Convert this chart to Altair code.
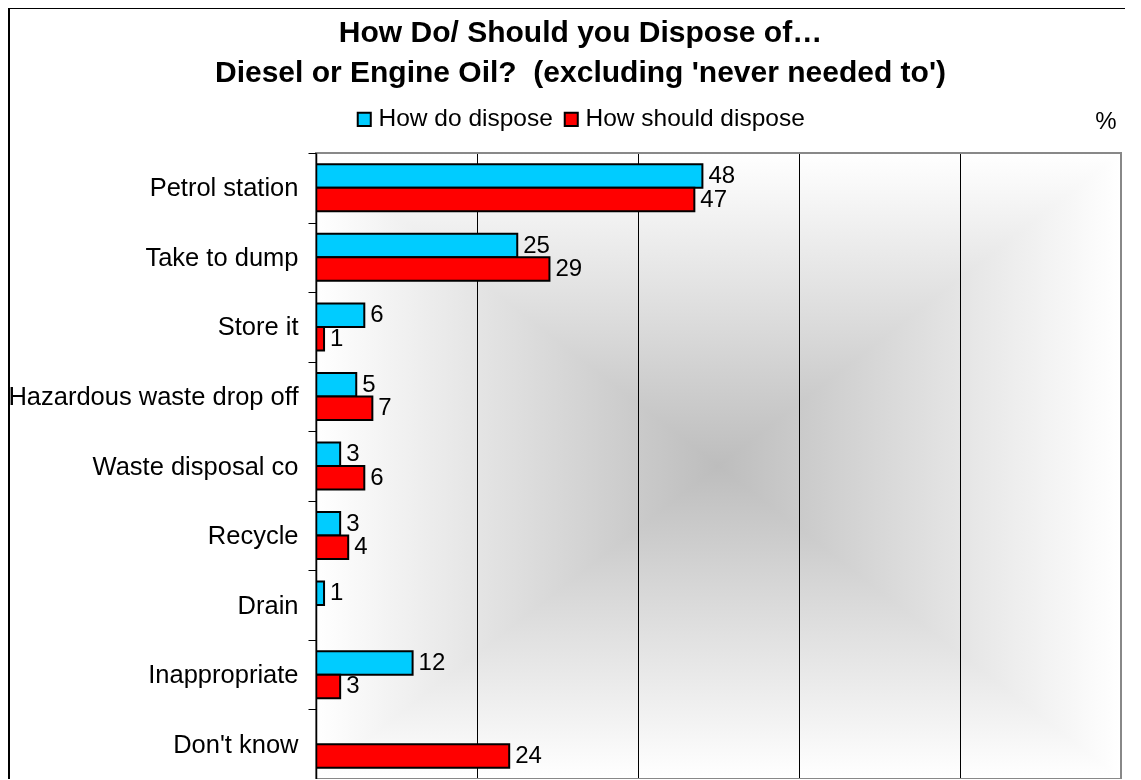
import altair as alt
import pandas as pd

# ---- data ----
categories = ["Petrol station", "Take to dump", "Store it", "Hazardous waste drop off",
              "Waste disposal co", "Recycle", "Drain", "Inappropriate", "Don't know"]
do_dispose = [48, 25, 6, 5, 3, 3, 1, 12, None]
should_dispose = [47, 29, 1, 7, 6, 4, None, 3, 24]
series = ["How do dispose", "How should dispose"]
colors = ["#00CCFF", "#FF0000"]
grid_values = [20, 40, 60, 80]
title_lines = ["How Do/ Should you Dispose of\u2026",
               "Diesel or Engine Oil?\u00a0 (excluding 'never needed to')"]

rows = []
for c, a, b in zip(categories, do_dispose, should_dispose):
    if a is not None:
        rows.append({"cat": c, "series": series[0], "value": a})
    if b is not None:
        rows.append({"cat": c, "series": series[1], "value": b})
df = pd.DataFrame(rows)

W, H = 805, 626
FONT = "Liberation Sans"

xscale = alt.Scale(domain=[0, 100], nice=False, zero=True)
yscale = alt.Scale(domain=categories, paddingInner=0, paddingOuter=0)
yoff = alt.Scale(domain=series, paddingInner=0, paddingOuter=0.48)

one = alt.Data(values=[{}])

def lin(x2, y2):
    return alt.Gradient(
        gradient="linear", x1=0, y1=0, x2=x2, y2=y2,
        stops=[alt.GradientStop(color="#ffffff", offset=0),
               alt.GradientStop(color="#bdbdbd", offset=0.5),
               alt.GradientStop(color="#ffffff", offset=1)])

bg_h = alt.Chart(one).mark_rect(fill=lin(1, 0)).encode(
    x=alt.value(0), x2=alt.value(W), y=alt.value(0), y2=alt.value(H))
bg_v = alt.Chart(one).mark_rect(fill=lin(0, 1), blend="lighten").encode(
    x=alt.value(0), x2=alt.value(W), y=alt.value(0), y2=alt.value(H))

grid = alt.Chart(pd.DataFrame({"g": grid_values})).mark_rule(
    color="black", strokeWidth=1, xOffset=0.5).encode(
    x=alt.X("g:Q", scale=xscale, axis=None), y=alt.value(0), y2=alt.value(H))

y_enc = alt.Y("cat:N", scale=yscale, sort=categories,
              axis=alt.Axis(title=None, labelFontSize=25.5, labelFont=FONT, labelColor="black",
                            domainColor="black", domainWidth=1.5, tickColor="black",
                            tickWidth=1, tickSize=8, tickBand="extent", labelPadding=10,
                            grid=False, zindex=1, labelLimit=400))
yoff_enc = alt.YOffset("series:N", scale=yoff, sort=series)

bars = alt.Chart(df).mark_bar(stroke="black", strokeWidth=2, opacity=1).encode(
    x=alt.X("value:Q", scale=xscale, axis=None),
    y=y_enc,
    yOffset=yoff_enc,
    color=alt.Color("series:N", sort=series,
                    scale=alt.Scale(domain=series, range=colors),
                    legend=alt.Legend(title=None, orient="none", legendX=36, legendY=-46,
                                      direction="horizontal", symbolType="square",
                                      symbolSize=170, symbolStrokeColor="black",
                                      symbolStrokeWidth=2, symbolOpacity=1,
                                      labelFontSize=24.5, labelFont=FONT, labelColor="black",
                                      labelOffset=2, columnPadding=6, labelLimit=400)),
)

labels = alt.Chart(df).mark_text(align="left", baseline="middle", dx=6, fontSize=24,
                                 font=FONT, color="black").encode(
    x=alt.X("value:Q", scale=xscale, axis=None),
    y=alt.Y("cat:N", scale=yscale, sort=categories),
    yOffset=yoff_enc,
    text="value:Q",
)

border = alt.Chart(one).mark_rect(fillOpacity=0, stroke="#888888", strokeWidth=2).encode(
    x=alt.value(0), x2=alt.value(W), y=alt.value(0), y2=alt.value(H))

pct = alt.Chart(one).mark_text(text="%", fontSize=24, font=FONT, color="black",
                               align="center", baseline="middle").encode(
    x=alt.value(790), y=alt.value(-31))

frame_top = alt.Chart(one).mark_rule(color="black", strokeWidth=2).encode(
    x=alt.value(-308), x2=alt.value(W + 4), y=alt.value(-145))
frame_left = alt.Chart(one).mark_rule(color="black", strokeWidth=2).encode(
    x=alt.value(-307), y=alt.value(-146), y2=alt.value(H))

chart = alt.layer(bg_h, bg_v, grid, bars, labels, border, pct, frame_top, frame_left).properties(
    width=W, height=H,
    title=alt.TitleParams(text=title_lines, fontSize=30, fontWeight="bold", font=FONT,
                          color="black", anchor="middle", frame="group", dx=-138, dy=82,
                          lineHeight=40, offset=0),
    autosize=alt.AutoSizeParams(type="none"),
    padding={"left": 308, "top": 145, "right": 4, "bottom": 0},
).configure_view(stroke=None)

chart.save("out.html", embed_options={"renderer": "svg", "actions": False})
